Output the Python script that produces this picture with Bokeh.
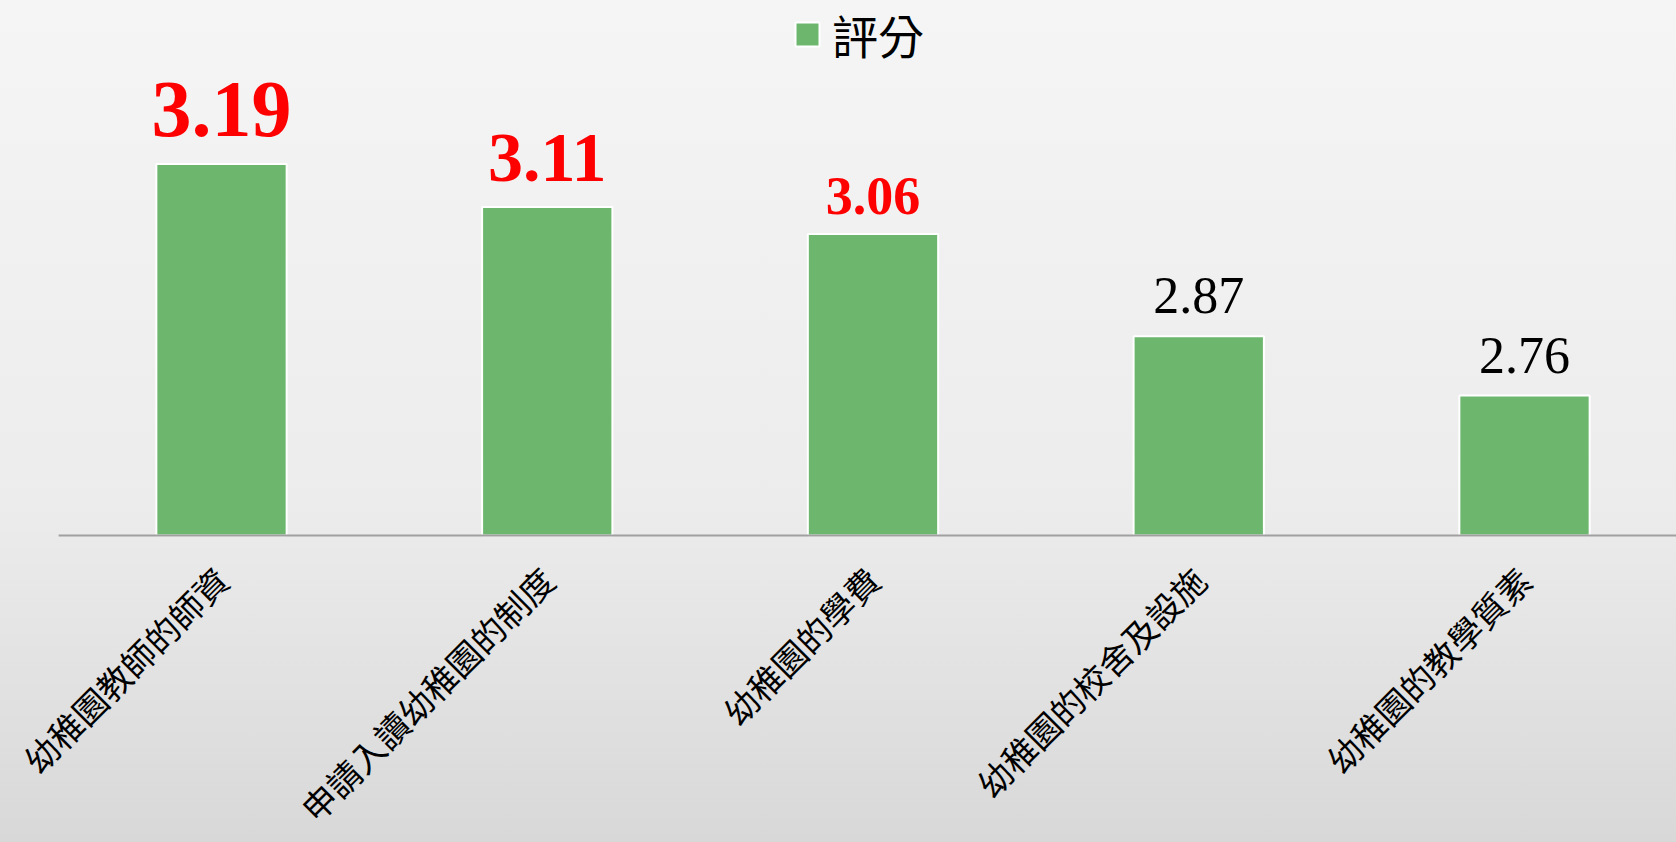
import math
from bokeh.plotting import figure
from bokeh.models import ColumnDataSource, Range1d, FixedTicker, LabelSet
from bokeh.core.properties import value
from bokeh.embed import file_html
from bokeh.resources import INLINE

# ---- data ----
categories = ["幼稚園教師的師資", "申請入讀幼稚園的制度", "幼稚園的學費",
              "幼稚園的校舍及設施", "幼稚園的教學質素"]
scores = [3.19, 3.11, 3.06, 2.87, 2.76]
series_name = "評分"
y_min = 2.5

# ---- styles for the value labels (kept apart from the data) ----
label_sizes = ["80px", "70px", "54px", "52px", "52px"]
label_colors = ["#ff0000", "#ff0000", "#ff0000", "#000000", "#000000"]
label_styles = ["bold", "bold", "bold", "normal", "normal"]
label_gaps = [28, 26, 20, 23, 22]

xs = list(range(len(categories)))
src = ColumnDataSource(dict(
    x=xs, score=scores, text=[f"{s:.2f}" for s in scores],
    size=label_sizes, color=label_colors, style=label_styles, gap=label_gaps,
))

W, H = 1676, 842
px_per_unit = 538.5
cat_step = 325.75
base_px = 535      # screen y of the category axis
first_center = 221

p = figure(
    width=W, height=H, output_backend="svg", toolbar_location=None,
    x_range=Range1d(-first_center / cat_step, (W - first_center) / cat_step),
    y_range=Range1d(y_min - (H - base_px) / px_per_unit, y_min + base_px / px_per_unit),
    y_axis_location=None,
    min_border_left=0, min_border_right=0, min_border_top=0, min_border_bottom=0,
    background_fill_alpha=0, border_fill_alpha=0, outline_line_color=None,
    styles={"background": "linear-gradient(to bottom, #f5f5f5 0%, #ececec 60%, #d8d8d8 100%)"},
)
p.xgrid.visible = False
p.ygrid.visible = False

p.vbar(x="x", top="score", bottom=y_min, width=0.4, source=src,
       fill_color="#6db66e", line_color="white", line_width=2,
       legend_label=series_name)

# category axis line spanning the category domain
p.segment(x0=[-0.5], x1=[len(categories) - 0.5], y0=[y_min], y1=[y_min],
          line_color="#a0a0a0", line_width=2)

labels = LabelSet(x="x", y="score", text="text", source=src,
                  text_font=value("Liberation Serif"), text_font_size="size",
                  text_color="color", text_font_style="style", y_offset="gap",
                  text_align="center", text_baseline="alphabetic")
p.add_layout(labels)

ax = p.xaxis[0]
ax.fixed_location = y_min
ax.ticker = FixedTicker(ticks=xs)
ax.major_label_overrides = {i: c for i, c in enumerate(categories)}
ax.major_label_orientation = math.pi / 4
ax.major_label_text_font = "Noto Sans CJK TC"
ax.major_label_text_font_size = "34px"
ax.major_label_text_color = "#000000"
ax.major_tick_line_color = None
ax.minor_tick_line_color = None
ax.major_tick_in = 0
ax.major_tick_out = 0
ax.axis_line_color = None
ax.major_label_standoff = 38

lg = p.legend[0]
lg.location = (792, 775)
lg.orientation = "horizontal"
lg.background_fill_alpha = 0
lg.border_line_color = None
lg.label_text_font = "Noto Sans CJK TC"
lg.label_text_font_size = "46px"
lg.label_text_color = "#000000"
lg.glyph_width = 30
lg.glyph_height = 30
lg.padding = 0
lg.margin = 0
lg.label_standoff = 10

open("out.html", "w").write(file_html(p, INLINE))
